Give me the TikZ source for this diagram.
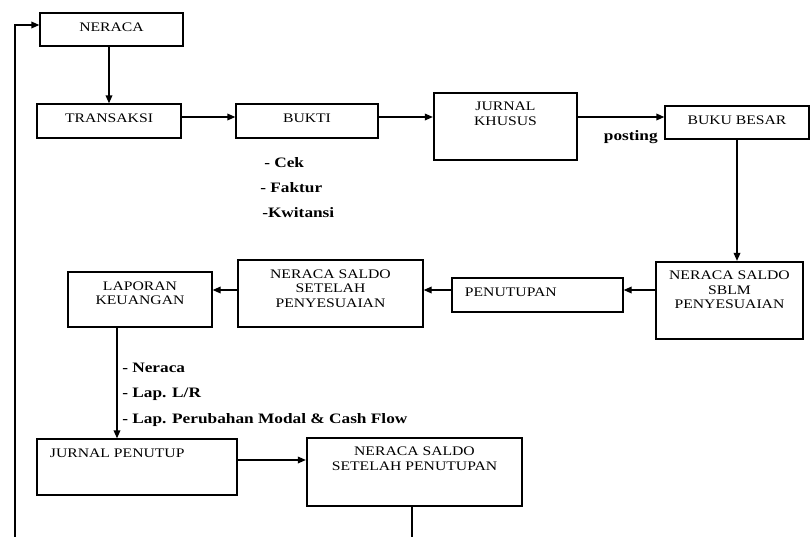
\documentclass[tikz,border=0pt]{standalone}
\usepackage{fontspec}
\setmainfont{Liberation Serif}[FakeStretch=1.2]
\usetikzlibrary{arrows.meta,fit}

\begin{document}
\begin{tikzpicture}[x=0.75pt, y=-0.75pt,
	box/.style={draw, line width=1pt, inner sep=0pt},
	thickbox/.style={box, line width=1.7pt},
	txt/.style={anchor=north, align=center, inner sep=0pt, yshift=-7.5pt, font=\fontsize{9.8}{10.9}\selectfont},
	ltxt/.style={txt, anchor=north west, xshift=10pt},
	item/.style={anchor=base west, inner sep=0pt, font=\fontsize{10.8}{13}\selectfont\bfseries},
	arr/.style={-{Triangle[length=6pt, width=5pt]}, line width=1pt}]

\useasboundingbox (0,0) rectangle (811,536);

\node[box, fit={(40,13)(183,46)}, label={[txt]north:NERACA}] (ner) {};
\node[box, fit={(37,104)(181,138)}, label={[txt]north:TRANSAKSI}] (tr) {};
\node[box, fit={(236,104)(378,138)}, label={[txt]north:BUKTI}] (bk) {};
\node[thickbox, fit={(434,93)(577,160)}, label={[txt]north:JURNAL\\KHUSUS}] (jk) {};
\node[box, fit={(665,106)(809,139)}, label={[txt]north:BUKU BESAR}] (bb) {};
\node[thickbox, fit={(656,262)(803,339)}, label={[txt]north:NERACA SALDO\\SBLM\\PENYESUAIAN}] (nsb) {};
\node[box, fit={(452,278)(623,312)}, label={[ltxt]north west:PENUTUPAN}] (pen) {};
\node[box, fit={(238,260)(423,327)}, label={[txt]north:NERACA SALDO\\SETELAH\\PENYESUAIAN}] (nsp) {};
\node[box, fit={(68,272)(212,327)}, label={[txt]north:LAPORAN\\KEUANGAN}] (lk) {};
\node[box, fit={(37,439)(237,495)}, label={[ltxt]north west:JURNAL PENUTUP}] (jp) {};
\node[thickbox, fit={(307,438)(522,506)}, label={[txt]north:NERACA SALDO\\SETELAH PENUTUPAN}] (nst) {};

\node[item, anchor=base east] (post) at (658,140) {posting};
\foreach [count=\i] \x\y\t in {264/167/- Cek, 260/192/- Faktur, 262/217/-Kwitansi}{
	\node[item] (b\i) at (\x,\y) {\t};
}
\foreach [count=\i] \y\t in {372/{- Neraca}, 397/{- Lap. L/R}, 423/{- Lap. Perubahan Modal \& Cash Flow}}{
	\node[item] (l\i) at (122,\y) {\t};
}

% rows and columns of the connectors
\coordinate (r0) at (0,25);
\coordinate (r1) at (0,117);
\coordinate (r3) at (0,290);
\coordinate (r4) at (0,460);
\coordinate (c1) at (117,0);
\coordinate (e1) at (15,540);
\coordinate (e2) at (412,540);

\draw[arr] (tr.north |- ner.south) -- (tr.north);
\foreach \u\v in {tr/bk, bk/jk, jk/bb}{
	\draw[arr] (\u.east |- r1) -- (\v.west |- r1);
}
\draw[arr] (bb.south) -- (bb.south |- nsb.north);
\foreach \u\v in {nsb/pen, pen/nsp, nsp/lk}{
	\draw[arr] (\u.west |- r3) -- (\v.east |- r3);
}
\draw[arr] (lk.south -| c1) -- (jp.north -| c1);
\draw[arr] (jp.east |- r4) -- (nst.west |- r4);
\draw[line width=1pt] (nst.south -| e2) -- (e2);
\draw[arr] (e1) |- (ner.west |- r0);

\end{tikzpicture}
\end{document}
